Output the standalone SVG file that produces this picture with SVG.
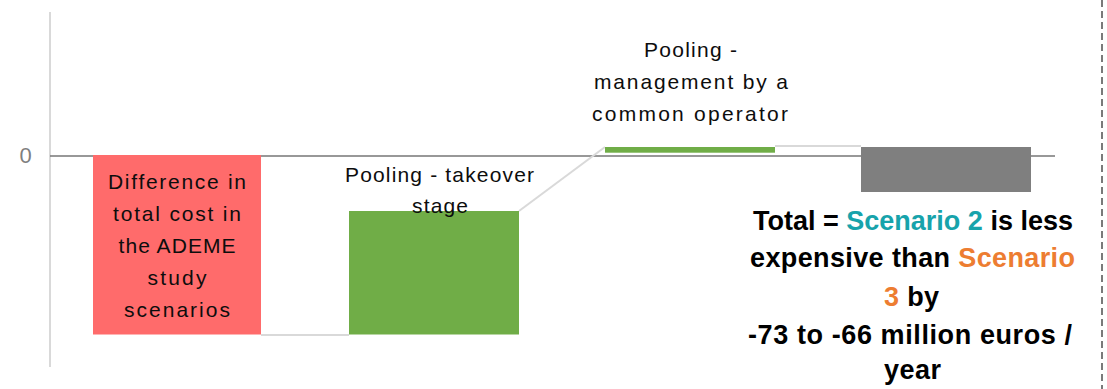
<svg xmlns="http://www.w3.org/2000/svg" width="1107" height="389" viewBox="0 0 1107 389">
  <style>
    .lbl { font-family: "Liberation Sans", Arial, sans-serif; font-size: 21px; fill: #0d0d0d; text-anchor: middle; }
    .tot { font-family: "Liberation Sans", Arial, sans-serif; font-size: 27px; font-weight: bold; fill: #000; text-anchor: middle; }
    .axis { font-family: "Liberation Sans", Arial, sans-serif; font-size: 22px; fill: #7f7f7f; text-anchor: middle; }
    .conn { stroke: #d9d9d9; stroke-width: 2; fill: none; }
    .teal { fill: #17a3ab; }
    .orange { fill: #ed7d31; }
  </style>
  <rect width="1107" height="389" fill="#ffffff"/>

  <g id="axes">
    <line x1="50" y1="12" x2="50" y2="367" stroke="#d9d9d9" stroke-width="2"/>
    <line x1="50" y1="156" x2="1055" y2="156" stroke="#767676" stroke-width="1.6"/>
    <text class="axis" x="25.5" y="163">0</text>
  </g>

  <line id="separator" x1="1102" y1="0" x2="1102" y2="389" stroke="#7a7a7a" stroke-width="2" stroke-dasharray="7 4"/>

  <g id="connectors">
    <line class="conn" x1="261" y1="335" x2="349" y2="335"/>
    <line class="conn" x1="519" y1="211" x2="605" y2="147"/>
    <line class="conn" x1="775" y1="146" x2="861" y2="146"/>
  </g>

  <g id="node-difference">
    <rect x="93" y="155" width="168" height="179.5" fill="#ff6b6b"/>
    <text class="lbl" x="177" y="189" textLength="138" lengthAdjust="spacing">Difference in</text>
    <text class="lbl" x="177" y="221" textLength="128" lengthAdjust="spacing">total cost in</text>
    <text class="lbl" x="177" y="253" textLength="117" lengthAdjust="spacing">the ADEME</text>
    <text class="lbl" x="177" y="285" textLength="59" lengthAdjust="spacing">study</text>
    <text class="lbl" x="177" y="317" textLength="106" lengthAdjust="spacing">scenarios</text>
  </g>

  <g id="node-takeover">
    <rect x="349" y="211" width="170" height="123.5" fill="#70ad47"/>
    <text class="lbl" x="439.5" y="181.5" textLength="189" lengthAdjust="spacing">Pooling - takeover</text>
    <text class="lbl" x="440" y="212.5" textLength="56" lengthAdjust="spacing">stage</text>
  </g>

  <g id="node-management">
    <rect x="605" y="147" width="170" height="5.7" fill="#70ad47"/>
    <text class="lbl" x="690.5" y="56.7" textLength="93" lengthAdjust="spacing">Pooling -</text>
    <text class="lbl" x="691" y="88.5" textLength="194" lengthAdjust="spacing">management by a</text>
    <text class="lbl" x="690" y="120.5" textLength="196" lengthAdjust="spacing">common operator</text>
  </g>

  <g id="node-total">
    <rect x="861" y="147" width="170" height="45" fill="#7f7f7f"/>
    <text class="tot" x="913" y="230" textLength="320" lengthAdjust="spacing">Total = <tspan class="teal">Scenario 2</tspan> is less</text>
    <text class="tot" x="912.5" y="267" textLength="325" lengthAdjust="spacing">expensive than <tspan class="orange">Scenario</tspan></text>
    <text class="tot" x="911.5" y="305.5" textLength="55" lengthAdjust="spacing"><tspan class="orange">3</tspan> by</text>
    <text class="tot" x="910" y="344" textLength="324" lengthAdjust="spacing">-73 to -66 million euros /</text>
    <text class="tot" x="912.5" y="378.5" textLength="57" lengthAdjust="spacing">year</text>
  </g>
</svg>
